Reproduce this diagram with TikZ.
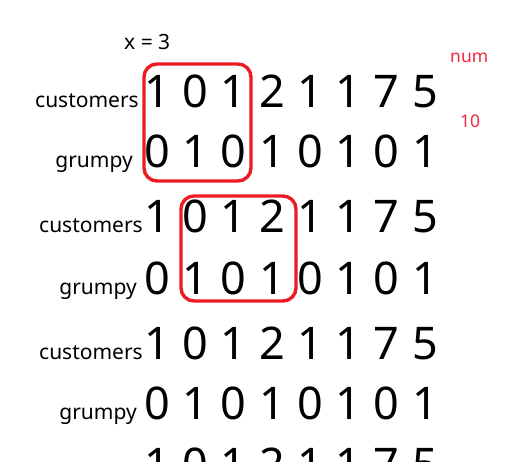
\documentclass[tikz,border=0pt]{standalone}
\usepackage{fontspec}
\setmainfont{Noto Sans}
\usepackage{tikz}

\definecolor{boxred}{HTML}{ED1C24}
\definecolor{notered}{HTML}{F0283C}

\tikzset{
  lbl/.style={font=\fontsize{21}{21}\selectfont, anchor=base east, inner sep=0pt},
  digit/.style={font=\fontsize{45}{45}\selectfont, anchor=base, inner sep=0pt},
  note/.style={font=\fontsize{17.5}{17.5}\selectfont, text=notered, anchor=base west, inner sep=0pt},
  window/.style={draw=boxred, line width=3.4pt, rounded corners=13pt}
}

\begin{document}
\begin{tikzpicture}[x=1pt,y=-1pt]
\useasboundingbox (0,0) rectangle (507,462);
\clip (0,0) rectangle (507,462);
\node[lbl, anchor=base west] (xval) at (124,50) {x = 3};
\node[note] (num) at (450,63) {num};
\node[note] (ten) at (460,128) {10};
% one block per window position
\foreach \blk/\yc/\yg/\dx in {1/108/168/-4, 2/233/295/0, 3/360/420/0, 4/481/543/0} {
    \node[lbl] (cust\blk) at (143+\dx,\yc) {customers};
    \node[lbl] (grum\blk) at (137+\dx,\yg) {grumpy};
    \foreach \d [count=\i from 0] in {1,0,1,2,1,1,7,5}
        \node[digit] (c\blk-\i) at ({157+38.3*\i},\yc) {\d};
    \foreach \d [count=\i from 0] in {0,1,0,1,0,1,0,1}
        \node[digit] (g\blk-\i) at ({157+38.3*\i},\yg) {\d};
}
\draw[window] (144,64) rectangle (251,181);
\draw[window] (181,196) rectangle (296,301);
\end{tikzpicture}
\end{document}
